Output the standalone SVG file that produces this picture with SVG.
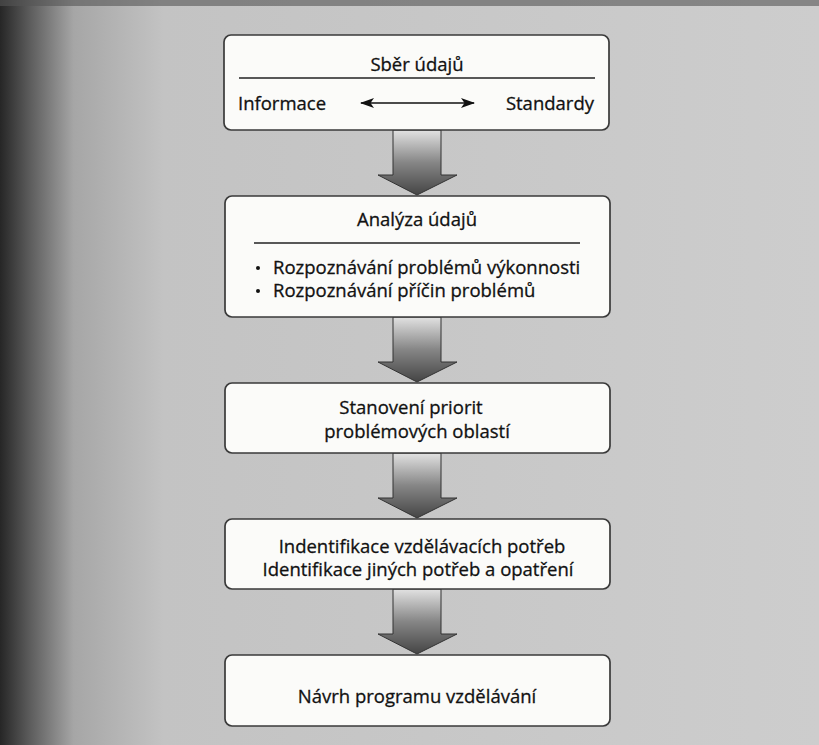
<svg xmlns="http://www.w3.org/2000/svg" width="819" height="745" viewBox="0 0 819 745">
<defs>
<linearGradient id="bgx" x1="0" y1="0" x2="1" y2="0">
<stop offset="0" stop-color="#262626"/>
<stop offset="0.035" stop-color="#5a5a5a"/>
<stop offset="0.09" stop-color="#a6a6a6"/>
<stop offset="0.2" stop-color="#c3c3c3"/>
<stop offset="1" stop-color="#cdcdcd"/>
</linearGradient>
<linearGradient id="arr" x1="0" y1="0" x2="0" y2="1">
<stop offset="0" stop-color="#e2e2e2"/>
<stop offset="0.5" stop-color="#868686"/>
<stop offset="1" stop-color="#454545"/>
</linearGradient>
<marker id="ah" viewBox="0 0 14 10" refX="13" refY="5" markerWidth="14" markerHeight="10" markerUnits="userSpaceOnUse" orient="auto-start-reverse">
<path d="M0,0 L14,5 L0,10 L3.5,5 Z" fill="#111"/>
</marker>
</defs>
<style>
.box{fill:#fbfbf9;stroke:#3a3a3a;stroke-width:1.7}
.t{font-family:"Open Sans","Noto Sans",sans-serif;font-size:18.5px;fill:#111;stroke:#111;stroke-width:0.3}
.c{text-anchor:middle}
.div{stroke:#222;stroke-width:1.4}
.ar{fill:url(#arr);stroke:#333;stroke-width:1}
</style>
<rect x="0" y="0" width="819" height="745" fill="url(#bgx)"/>
<rect x="0" y="0" width="819" height="6" fill="#555" opacity="0.6"/>

<g id="connectors">
<polygon class="ar" points="393,130 441,130 441,175 457,175 417,195 378,175 393,175"/>
<polygon class="ar" points="393,317 441,317 441,362 457,362 417,382 378,362 393,362"/>
<polygon class="ar" points="393,453 441,453 441,498 457,498 417,518 378,498 393,498"/>
<polygon class="ar" points="393,589 441,589 441,634 457,634 417,654 378,634 393,634"/>
</g>

<g id="node1">
<rect class="box" x="224" y="35" width="385" height="95" rx="7"/>
<text class="t c" x="417" y="71">Sběr údajů</text>
<line class="div" x1="239" y1="78" x2="595" y2="78"/>
<text class="t" x="238" y="110">Informace</text>
<text class="t" x="594" y="110" text-anchor="end">Standardy</text>
<line x1="361" y1="103" x2="474" y2="103" stroke="#111" stroke-width="1.5" marker-start="url(#ah)" marker-end="url(#ah)"/>
</g>

<g id="node2">
<rect class="box" x="225" y="196" width="385" height="121" rx="7"/>
<text class="t c" x="417" y="226">Analýza údajů</text>
<line class="div" x1="254" y1="243" x2="580" y2="243"/>
<circle cx="258" cy="268" r="2" fill="#111"/>
<circle cx="258" cy="291" r="2" fill="#111"/>
<text class="t" x="273" y="274">Rozpoznávání problémů výkonnosti</text>
<text class="t" x="273" y="297">Rozpoznávání příčin problémů</text>
</g>

<g id="node3">
<rect class="box" x="225" y="383" width="385" height="70" rx="7"/>
<text class="t c" x="411" y="414">Stanovení priorit</text>
<text class="t c" x="417" y="438">problémových oblastí</text>
</g>

<g id="node4">
<rect class="box" x="225" y="519" width="385" height="70" rx="7"/>
<text class="t c" x="422" y="553">Indentifikace vzdělávacích potřeb</text>
<text class="t c" x="418" y="576">Identifikace jiných potřeb a opatření</text>
</g>

<g id="node5">
<rect class="box" x="225" y="655" width="385" height="71" rx="7"/>
<text class="t c" x="417" y="703">Návrh programu vzdělávání</text>
</g>
</svg>
